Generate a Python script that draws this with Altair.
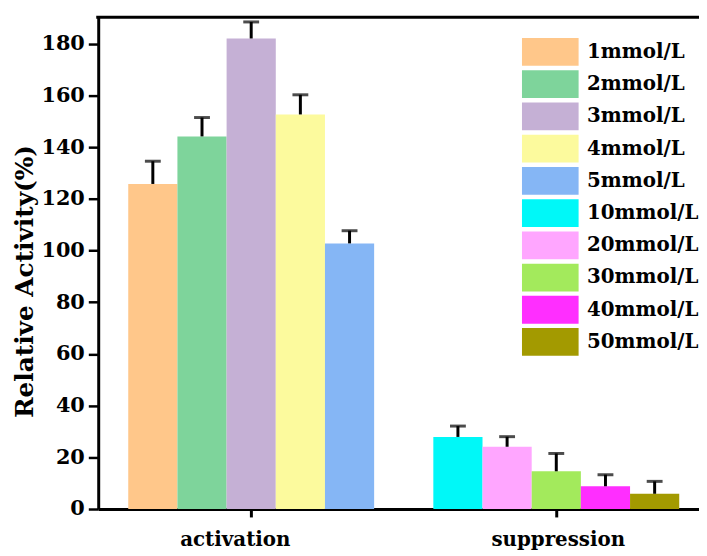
import altair as alt
import pandas as pd

groups = ["activation"] * 5 + ["suppression"] * 5
series = ["1mmol/L", "2mmol/L", "3mmol/L", "4mmol/L", "5mmol/L",
          "10mmol/L", "20mmol/L", "30mmol/L", "40mmol/L", "50mmol/L"]
values = [125.8, 144.2, 182.1, 152.7, 102.8, 27.9, 24.1, 14.6, 8.8, 5.9]
errors = [8.8, 7.3, 6.4, 7.6, 4.9, 4.2, 3.9, 6.9, 4.5, 4.8]
colors = ["#FFC78A", "#7ED49B", "#C5B0D5", "#FCFA9D", "#85B6F5",
          "#00F8F8", "#FFA6FF", "#A3EA5C", "#FF2EFF", "#A39A00"]

df = pd.DataFrame({"group": groups, "series": series, "value": values, "err": errors})
df["slot"] = df.groupby("group").cumcount()
df["upper"] = df["value"] + df["err"]

FONT = "DejaVu Serif"
W, H = 606, 496

x = alt.X("group:N", sort=["activation", "suppression"],
          scale=alt.Scale(paddingInner=0.194, paddingOuter=0.0816, align=0.603),
          axis=alt.Axis(title=None, labelAngle=0, labelFont=FONT, labelFontSize=20,
                        labelFontWeight="bold", labelColor="black",
                        labelOffset={"condition": {"test": "datum.value === 'activation'", "value": -16}, "value": 2},
                        labelPadding=13, tickSize=8, tickWidth=3, tickColor="black",
                        domainColor="black", domainWidth=3))
xo = alt.XOffset("slot:O", scale=alt.Scale(paddingInner=0, paddingOuter=0))
yscale = alt.Scale(domain=[0, 190.3], nice=False)

bars = alt.Chart(df).mark_bar(opacity=1).encode(
    x=x, xOffset=xo,
    y=alt.Y("value:Q", scale=yscale,
            axis=alt.Axis(title="Relative Activity(%)", values=list(range(0, 181, 10)),
                          labelExpr="datum.value % 20 === 0 ? datum.label : ''",
                          tickSize={"condition": {"test": "datum.value % 20 === 0", "value": 10}, "value": 5},
                          tickWidth=2.5, tickColor="black", domainColor="black", domainWidth=3,
                          grid=False, labelFont=FONT, labelFontSize=21, labelFontWeight="bold",
                          labelColor="black", labelPadding=4,
                          titleFont=FONT, titleFontSize=25, titleFontWeight="bold", titleColor="black",
                          titleX=-66, titleY=266, titleAngle=270, titleAlign="center",
                          titleBaseline="alphabetic")),
    color=alt.Color("series:N", scale=alt.Scale(domain=series, range=colors),
                    legend=alt.Legend(title=None, orient="none", legendX=442, legendY=21,
                                      symbolType="M-2.04,-1H2.04V1H-2.04Z", symbolSize=784,
                                      symbolStrokeWidth=0, symbolOpacity=1,
                                      labelFont=FONT, labelFontSize=20, labelFontWeight="bold",
                                      labelColor="black", labelOffset=23, rowPadding=4.5,
                                      padding=0, labelLimit=300))
)

stems = alt.Chart(df).mark_rule(color="black", strokeWidth=3).encode(
    x=x, xOffset=xo, y=alt.Y("value:Q", scale=yscale), y2="upper:Q")
caps = alt.Chart(df).mark_tick(color="black", thickness=3, size=16, orient="horizontal").encode(
    x=x, xOffset=xo, y=alt.Y("upper:Q", scale=yscale))

top = alt.Chart(pd.DataFrame({"k": [0]})).mark_rule(color="black", strokeWidth=3).encode(
    x=alt.value(-2), x2=alt.value(W), y=alt.value(0))

chart = alt.layer(bars, stems, caps, top).properties(
    width=W, height=H, autosize="none",
    padding={"left": 91, "top": 7, "right": 0, "bottom": 42}
).configure_view(stroke=None)

chart.save("out.html", embed_options={"renderer": "svg", "actions": False})
